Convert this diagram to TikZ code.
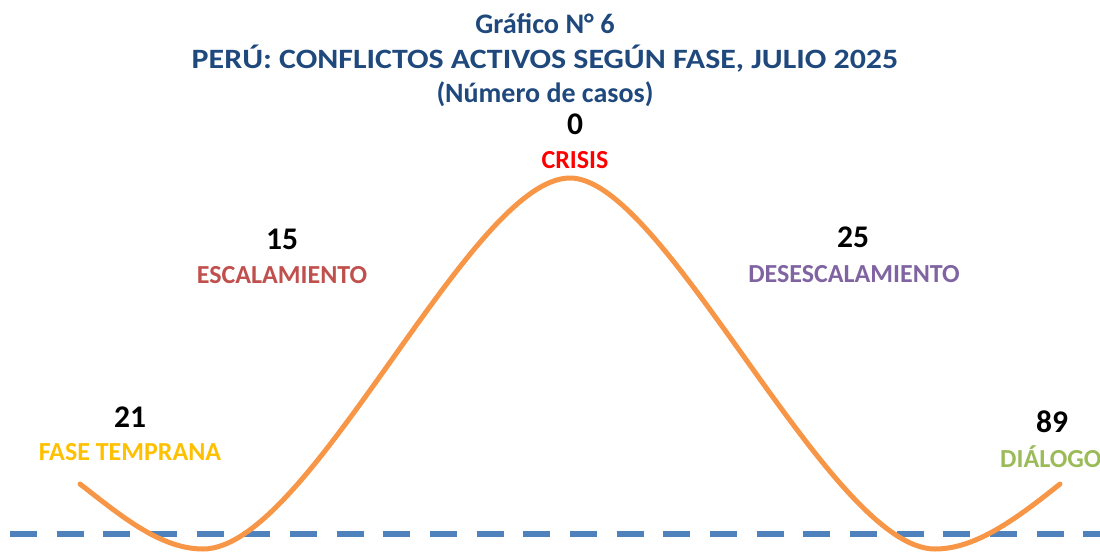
\documentclass[tikz,border=0pt]{standalone}
\usepackage{fontspec}
\usepackage{graphicx}
\setmainfont{Carlito}
\definecolor{titleblue}{HTML}{1F497D}
\definecolor{curveorange}{HTML}{F79646}
\definecolor{dashblue}{HTML}{4F81BD}
\definecolor{tempcol}{HTML}{FFC000}
\definecolor{esccol}{HTML}{C0504D}
\definecolor{crisiscol}{HTML}{FF0000}
\definecolor{descol}{HTML}{8064A2}
\definecolor{dialcol}{HTML}{9BBB59}
\tikzset{
  titlesmall/.style={anchor=base, inner sep=0pt, text=titleblue, font=\fontsize{28.3}{32}\selectfont\bfseries},
  titlebig/.style={anchor=base, inner sep=0pt, text=titleblue, font=\fontsize{28}{32}\selectfont\bfseries},
  numlabel/.style={anchor=base, inner sep=0pt, text=black, font=\fontsize{31.5}{34}\selectfont\bfseries},
  phaselabel/.style={anchor=base, inner sep=0pt, font=\fontsize{26}{30}\selectfont\bfseries},
  curveline/.style={draw=curveorange, line width=5pt, line cap=round},
  dashline/.style={draw=dashblue, line width=6.5pt, dash pattern=on 27pt off 19.67pt}
}
\begin{document}
\begin{tikzpicture}[x=1pt,y=-1pt]
\useasboundingbox (0,0) rectangle (1100,552);
% titles
\node[titlesmall] (t1) at (545,33) {Gráfico N° 6};
\node[titlebig] (t2) at (545,68.5) {\scalebox{1.14}[1]{PERÚ: CONFLICTOS ACTIVOS SEGÚN FASE, JULIO 2025}};
\node[titlesmall, font=\fontsize{28}{32}\selectfont\bfseries] (t3) at (545,102) {(Número de casos)};
% dashed baseline
\coordinate (dl) at (10,534);
\coordinate (dr) at (1100,534);
\draw[dashline] (dl) -- (dr);
% curve
\coordinate (c0) at (80,484);
\coordinate (c1) at (203,549);
\coordinate (c2) at (570,178);
\coordinate (c3) at (935,549);
\coordinate (c4) at (1060,484);
\draw[curveline] (c0) .. controls (120,515) and (160,549) .. (c1)
  .. controls (310,549) and (470,178) .. (c2)
  .. controls (665,178) and (830,549) .. (c3)
  .. controls (975,549) and (1015,520) .. (c4);
% labels
\node[numlabel] (n0) at (575,134) {0};
\node[phaselabel, text=crisiscol] (p0) at (575,168) {CRISIS};
\node[numlabel] (n1) at (282,249) {15};
\node[phaselabel, text=esccol] (p1) at (282,283) {ESCALAMIENTO};
\node[numlabel] (n2) at (130,427) {21};
\node[phaselabel, text=tempcol] (p2) at (130,460) {FASE TEMPRANA};
\node[numlabel] (n3) at (853,247) {25};
\node[phaselabel, text=descol] (p3) at (854,282) {DESESCALAMIENTO};
\node[numlabel] (n4) at (1052,432) {89};
\node[phaselabel, text=dialcol, anchor=base west] (p4) at (1000,467) {DIÁLOGO};
\end{tikzpicture}
\end{document}
